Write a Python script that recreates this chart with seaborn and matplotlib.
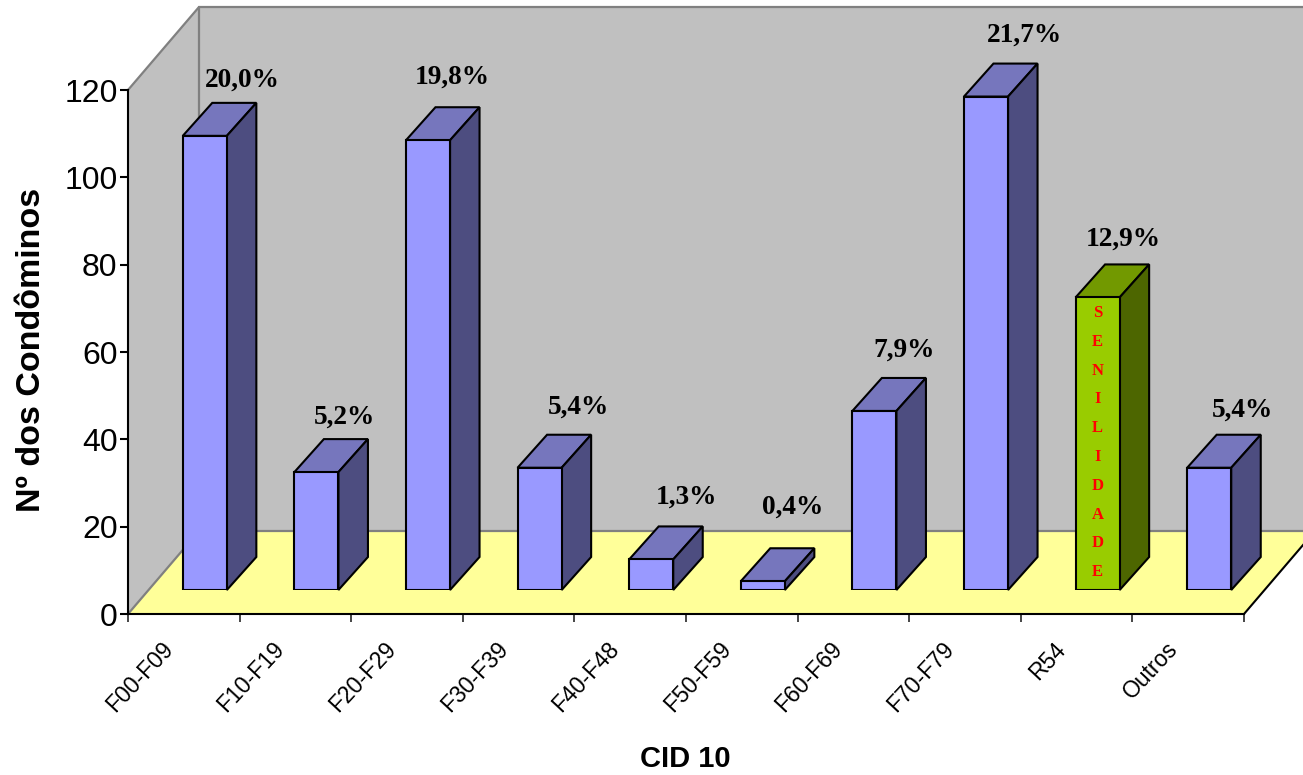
import matplotlib
matplotlib.use("Agg")
import matplotlib.pyplot as plt
from matplotlib.patches import Polygon
from matplotlib.ticker import FixedLocator
import numpy as np
import seaborn as sns

# Chart data
categories = ["F00-F09", "F10-F19", "F20-F29", "F30-F39", "F40-F48",
              "F50-F59", "F60-F69", "F70-F79", "R54", "Outros"]
counts = [104, 27, 103, 28, 7, 2, 41, 113, 67, 28]
percent_labels = ["20,0%", "5,2%", "19,8%", "5,4%", "1,3%",
                  "0,4%", "7,9%", "21,7%", "12,9%", "5,4%"]
r54_letters = list("SENILIDADE")

# Pixel offsets of each percentage label from the top centre of its bar
label_dx = [38, 28, 24, 39, 35, 30, 30, 39, 26, 33]
label_dy = [56, 55, 63, 61, 62, 74, 61, 61, 58, 58]

W, H = 1303, 775
PLOT_L, PLOT_R = 128, 1244
PLOT_B, PLOT_T = 614, 90
BAR_SHIFT_X, BAR_SHIFT_Y = 21, 24
YMAX = 120

X_UNIT = (PLOT_R - PLOT_L) / len(categories)
Y_UNIT = (PLOT_B - PLOT_T) / YMAX
ROOM_DX, ROOM_DY = 71 / X_UNIT, 83 / Y_UNIT
BAR_DX, BAR_DY = 29.5 / X_UNIT, 33 / Y_UNIT

WALL = "#C0C0C0"
WALL_EDGE = "#808080"
FLOOR = "#FFFF99"
BLUE = ("#9999FF", "#7676BD", "#4D4D80")
GREEN = ("#99CC00", "#729900", "#4D6600")

sns.set_style("white")
plt.rcParams["font.family"] = ["Liberation Sans", "DejaVu Sans"]
SERIF = "Liberation Serif"

fig = plt.figure(figsize=(W / 100, H / 100), dpi=100, facecolor="white")


def frame(left, bottom_px, right, top_px):
    return [left / W, 1 - bottom_px / H, (right - left) / W, (bottom_px - top_px) / H]


ax = fig.add_axes(frame(PLOT_L, PLOT_B, PLOT_R, PLOT_T), zorder=1)
ax_bars = fig.add_axes(frame(PLOT_L + BAR_SHIFT_X, PLOT_B - BAR_SHIFT_Y,
                             PLOT_R + BAR_SHIFT_X, PLOT_T - BAR_SHIFT_Y), zorder=2)

xlim = (-0.5, len(categories) - 0.5)
x0, x1 = xlim

# Room: side wall, back wall and floor
ax.set_facecolor("none")
room = [
    ([(x0, 0), (x0 + ROOM_DX, ROOM_DY), (x0 + ROOM_DX, YMAX + ROOM_DY), (x0, YMAX)], WALL),
    ([(x0 + ROOM_DX, ROOM_DY), (x1 + ROOM_DX, ROOM_DY), (x1 + ROOM_DX, YMAX + ROOM_DY),
      (x0 + ROOM_DX, YMAX + ROOM_DY)], WALL),
    ([(x0, 0), (x1, 0), (x1 + ROOM_DX, ROOM_DY), (x0 + ROOM_DX, ROOM_DY)], FLOOR),
]
for verts, color in room:
    ax.add_patch(Polygon(verts, closed=True, facecolor=color, edgecolor="none", clip_on=False, zorder=1))

wall_lines = [
    ([x0, x0 + ROOM_DX, x1 + ROOM_DX], [YMAX, YMAX + ROOM_DY, YMAX + ROOM_DY]),
    ([x0 + ROOM_DX, x0 + ROOM_DX], [YMAX + ROOM_DY, ROOM_DY]),
    ([x0, x0 + ROOM_DX, x1 + ROOM_DX], [0, ROOM_DY, ROOM_DY]),
]
for xs, ys in wall_lines:
    ax.plot(xs, ys, color=WALL_EDGE, lw=1.6, clip_on=False, zorder=2, solid_joinstyle="miter")
ax.plot([x1, x1 + ROOM_DX], [0, ROOM_DY], color="black", lw=1.5, clip_on=False, zorder=2)

# Front axis
ax.set_xlim(xlim)
ax.set_ylim(0, YMAX)
for side in ("top", "right"):
    ax.spines[side].set_visible(False)
for side in ("left", "bottom"):
    ax.spines[side].set_linewidth(1.5)
    ax.spines[side].set_color("black")
    ax.spines[side].set_zorder(5)
ax.set_yticks(np.arange(0, YMAX + 1, 20))
ax.tick_params(axis="y", which="major", direction="out", left=True, length=5.5, width=1.5,
               pad=2, labelsize=23, colors="black")
ax.xaxis.set_major_locator(FixedLocator(np.arange(len(categories) + 1) - 0.5))
# Category names sit a little left of the slot centres
ax.xaxis.set_minor_locator(FixedLocator(np.arange(len(categories)) - 0.205))
ax.set_xticklabels([""] * (len(categories) + 1))
ax.set_xticklabels(categories, minor=True, rotation=47, ha="right", va="top",
                   rotation_mode="anchor", fontsize=16.5, color="black")
ax.tick_params(axis="x", which="major", direction="out", bottom=True, length=5.5, width=1.2)
ax.tick_params(axis="x", which="minor", bottom=False, length=0, pad=17)
ax.set_xlabel("CID 10", fontsize=21, fontweight="bold", color="black")
ax.xaxis.set_label_coords((685 - PLOT_L) / (PLOT_R - PLOT_L), -(759 - PLOT_B) / (PLOT_B - PLOT_T))
ax.xaxis.label.set_verticalalignment("center")
ax.set_ylabel("Nº dos Condôminos", fontsize=24.5, fontweight="bold", color="black")
ax.yaxis.set_label_coords((32 - PLOT_L) / (PLOT_R - PLOT_L), (PLOT_B - 350) / (PLOT_B - PLOT_T))
ax.yaxis.label.set_verticalalignment("center")
ax.grid(False)

# Bars: front faces come from seaborn, top and side faces follow each front face
palette = [GREEN[0] if c == "R54" else BLUE[0] for c in categories]
sns.barplot(x=categories, y=counts, hue=categories, palette=palette, order=categories,
            hue_order=categories, width=0.395, dodge=False, legend=False, saturation=1,
            edgecolor="black", linewidth=1.5, ax=ax_bars)
ax_bars.set_xlim(xlim)
ax_bars.set_ylim(0, YMAX)
ax_bars.axis("off")
ax_bars.patch.set_alpha(0)

front_faces = sorted([p for p in ax_bars.patches if p.get_height() > 0], key=lambda p: p.get_x())
for i, (bar, cat) in enumerate(zip(front_faces, categories)):
    shades = GREEN if cat == "R54" else BLUE
    bx0, bx1 = bar.get_x(), bar.get_x() + bar.get_width()
    top = bar.get_height()
    bar.set_zorder(4)
    bar.set_joinstyle("miter")
    ax_bars.add_patch(Polygon([(bx0, top), (bx1, top), (bx1 + BAR_DX, top + BAR_DY), (bx0 + BAR_DX, top + BAR_DY)],
                              closed=True, facecolor=shades[1], edgecolor="black", lw=1.5,
                              joinstyle="miter", clip_on=False, zorder=3))
    ax_bars.add_patch(Polygon([(bx1, 0), (bx1 + BAR_DX, BAR_DY), (bx1 + BAR_DX, top + BAR_DY), (bx1, top)],
                              closed=True, facecolor=shades[2], edgecolor="black", lw=1.5,
                              joinstyle="miter", clip_on=False, zorder=3))
    ax_bars.annotate(percent_labels[i], xy=(i, top), xycoords="data",
                     xytext=(label_dx[i] * 0.72, label_dy[i] * 0.72), textcoords="offset points",
                     ha="center", va="center", fontsize=19.7, fontweight="bold",
                     family=SERIF, color="black", annotation_clip=False, zorder=6)

# Word spelled down the R54 bar
r54_index = categories.index("R54")
letter_y = np.linspace(63.4, 4.1, len(r54_letters))
for letter, y in zip(r54_letters, letter_y):
    ax_bars.text(r54_index, y, letter, ha="center", va="center", fontsize=12,
                 fontweight="bold", family=SERIF, color="#FF0000", zorder=6)

fig.savefig("out.png", dpi=100, facecolor="white")
